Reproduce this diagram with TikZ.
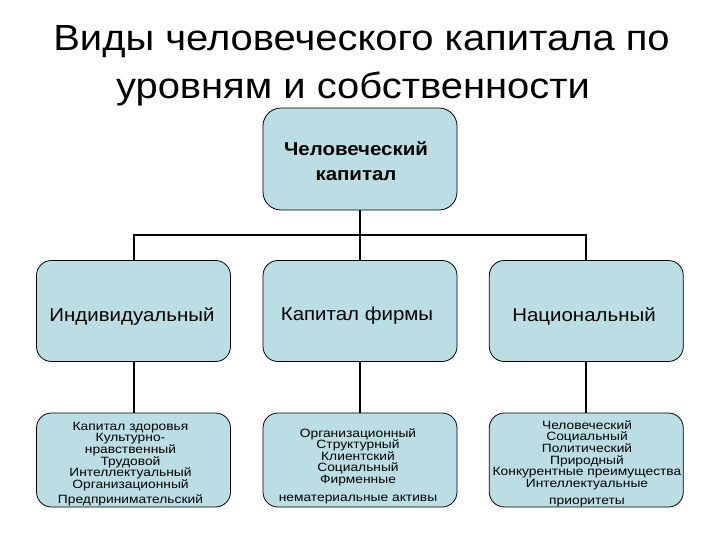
\documentclass[tikz,border=0pt]{standalone}
\usepackage{fontspec}
\setmainfont[FakeStretch=1.1]{Liberation Sans}
\newfontfamily\smallfont[FakeStretch=1.15]{Liberation Sans}
\definecolor{boxfill}{RGB}{186,222,228}
\begin{document}
\begin{tikzpicture}[x=1pt,y=-1pt,
  box/.style={draw=black, line width=0.8pt, fill=boxfill, rounded corners=15pt, inner sep=0pt, minimum width=194pt},
  conn/.style={line width=2pt, black, line join=miter},
  titletext/.style={inner sep=0pt, font=\fontsize{36.3}{36}\selectfont},
  midtext/.style={inner sep=0pt, font=\fontsize{18.6}{18.6}\selectfont},
  toptext/.style={inner sep=0pt, align=center, font=\fontsize{18.6}{25}\selectfont\bfseries},
  bottext/.style={inner sep=0pt, align=center, font=\smallfont\fontsize{12}{11.6}\selectfont}]
\useasboundingbox (0,0) rectangle (720,540);
\fill[white] (0,0) rectangle (720,540);
% title
\node[titletext, anchor=base] (t1) at (361.5,51) {Виды человеческого капитала по};
\node[titletext, anchor=base] (t2) at (353,98.5) {уровням и собственности};
% boxes
\node[box, minimum height=102pt, rounded corners=18pt] (top) at (360,159) {};
\node[box, minimum height=101pt] (m1) at (133.5,311) {};
\node[box, minimum height=101pt] (m2) at (360,311) {};
\node[box, minimum height=101pt] (m3) at (586.3,311) {};
\node[box, minimum height=94pt] (b1) at (133.5,460) {};
\node[box, minimum height=94pt] (b2) at (360,460) {};
\node[box, minimum height=94pt] (b3) at (586.3,460) {};
% connectors
\coordinate (bus) at (360,235);
\draw[conn] (top.south) -- (m2.north);
\draw[conn] (m1.north) |- (bus) -| (m3.north);
\draw[conn] (m1.south) -- (b1.north);
\draw[conn] (m2.south) -- (b2.north);
\draw[conn] (m3.south) -- (b3.north);
% texts
\node[toptext, anchor=north] (tt) at (356,141.5) {Человеческий\\капитал};
\node[midtext, anchor=base] (mt1) at (132,321.7) {Индивидуальный};
\node[midtext, anchor=base] (mt2) at (357,320) {Капитал фирмы};
\node[midtext, anchor=base] (mt3) at (584,321) {Национальный};
\node[bottext, anchor=north] (bt1) at (130.5,421.9) {Капитал здоровья\\Культурно-\\нравственный\\Трудовой\\Интеллектуальный\\Организационный\\[3.7pt]Предпринимательский};
\node[bottext, anchor=north] (bt2) at (358,427.9) {Организационный\\Структурный\\Клиентский\\Социальный\\Фирменные\\[6.4pt]нематериальные активы};
\node[bottext, anchor=north] (bt3) at (587,420.2) {Человеческий\\Социальный\\Политический\\Природный\\Конкурентные преимущества\\Интеллектуальные\\[5.7pt]приоритеты};
\end{tikzpicture}
\end{document}
